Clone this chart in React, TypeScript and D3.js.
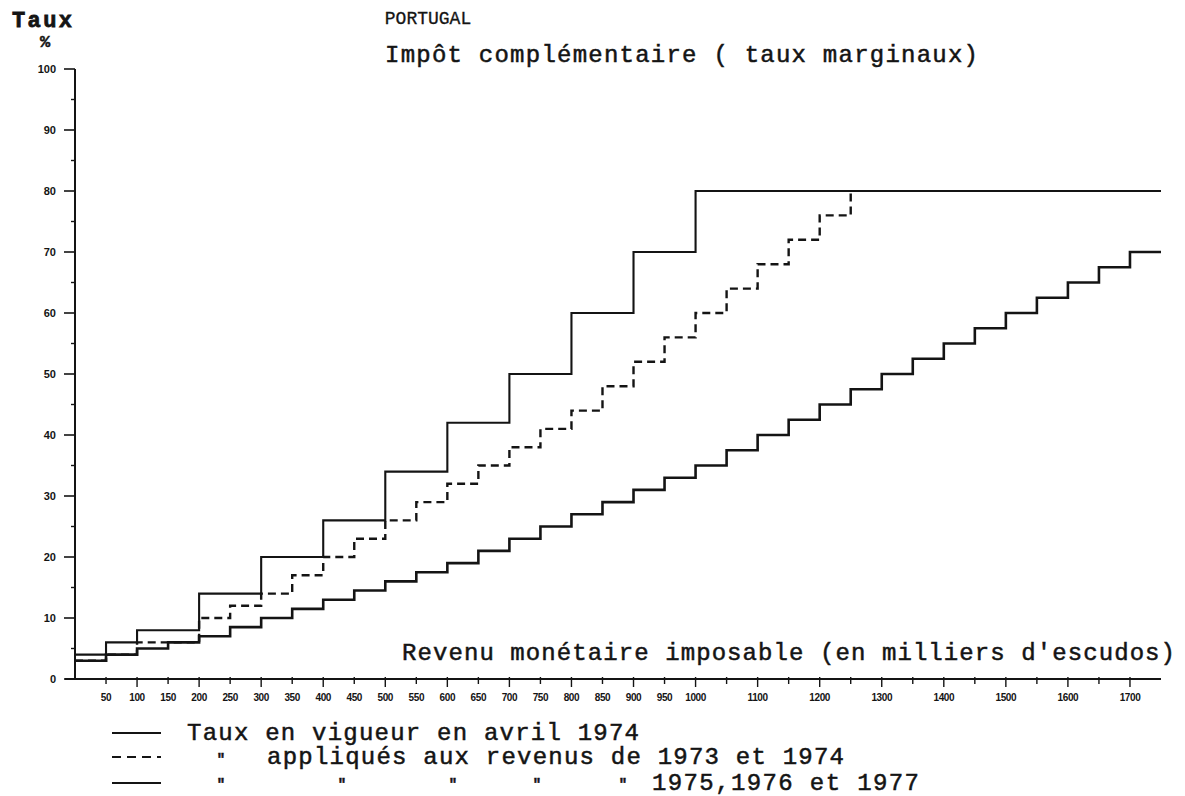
import * as d3 from 'd3';

// income thresholds (thousand escudos) and marginal rates (%)
const thresholds1974 = [0, 50, 100, 200, 300, 400, 500, 600, 700, 800, 900, 1000, 1750];
const rates1974 = [4, 6, 8, 14, 20, 26, 34, 42, 50, 60, 70, 80, 80];

const thresholds7374 = [0, 50, 100, 200, 250, 300, 350, 400, 450, 500, 550, 600, 650, 700, 750, 800, 850, 900, 950, 1000, 1050, 1100, 1150, 1200, 1250];
const rates7374 = [3, 4, 6, 10, 12, 14, 17, 20, 23, 26, 29, 32, 35, 38, 41, 44, 48, 52, 56, 60, 64, 68, 72, 76, 80];

const thresholds7577 = [0, 50, 100, 150, 200, 250, 300, 350, 400, 450, 500, 550, 600, 650, 700, 750, 800, 850, 900, 950, 1000, 1050, 1100, 1150, 1200, 1250, 1300, 1350, 1400, 1450, 1500, 1550, 1600, 1650, 1700, 1750];
const rates7577 = [3, 4, 5, 6, 7, 8.5, 10, 11.5, 13, 14.5, 16, 17.5, 19, 21, 23, 25, 27, 29, 31, 33, 35, 37.5, 40, 42.5, 45, 47.5, 50, 52.5, 55, 57.5, 60, 62.5, 65, 67.5, 70, 70];

const xTickLabels = [50, 100, 150, 200, 250, 300, 350, 400, 450, 500, 550, 600, 650, 700, 750, 800, 850, 900, 950, 1000, 1100, 1200, 1300, 1400, 1500, 1600, 1700];
const xTickMarks = [50, 100, 150, 200, 250, 300, 350, 400, 450, 500, 550, 600, 650, 700, 750, 800, 850, 900, 950, 1000, 1050, 1100, 1150, 1200, 1250, 1300, 1350, 1400, 1450, 1500, 1550, 1600, 1650, 1700];
const yTickLabels = [0, 10, 20, 30, 40, 50, 60, 70, 80, 90, 100];
const yMinorTicks = [5, 15, 25, 35, 45, 55, 65, 75, 85, 95];

const W = 1185;
const H = 796;
const INK = '#141414';
const TYPE = '"Liberation Mono", "DejaVu Sans Mono", monospace';
const SMALL = '"Liberation Sans", Arial, sans-serif';

export default function App() {
  const x = d3.scaleLinear().domain([0, 1750]).range([75, 1161]);
  const y = d3.scaleLinear().domain([0, 100]).range([679, 69]);

  const line = d3
    .line<[number, number]>()
    .x((d) => x(d[0]))
    .y((d) => y(d[1]))
    .curve(d3.curveStepAfter);

  const zip = (t: number[], r: number[]) => t.map((v, i) => [v, r[i]] as [number, number]);

  const typeText = {
    fontFamily: TYPE,
    fontSize: 24,
    fill: INK,
    stroke: INK,
    strokeWidth: 0.5,
  };

  return (
    <svg
      width={W}
      height={H}
      style={{ position: 'absolute', left: 0, top: 0, background: '#fff' }}
    >
      {/* headings */}
      <text x={12} y={27} {...typeText} fontSize={22} fontWeight="bold" strokeWidth={0.8} textLength={60}>
        Taux
      </text>
      <text x={45} y={47} {...typeText} fontSize={17} fontWeight="bold" textAnchor="middle">
        %
      </text>
      <text x={428} y={24} {...typeText} fontSize={18} strokeWidth={0.3} textAnchor="middle">
        PORTUGAL
      </text>
      <text x={385} y={62} {...typeText} textLength={593} lengthAdjust="spacing">
        Impôt complémentaire ( taux marginaux)
      </text>
      <text x={402} y={660} {...typeText} textLength={773} lengthAdjust="spacing">
        Revenu monétaire imposable (en milliers d'escudos)
      </text>

      {/* y axis */}
      <line x1={75} x2={75} y1={y(0)} y2={y(100)} stroke={INK} strokeWidth={2} />
      {yTickLabels.map((v) => (
        <g key={`y${v}`}>
          <line x1={64} x2={75} y1={y(v)} y2={y(v)} stroke={INK} strokeWidth={1.6} />
          <text
            x={56}
            y={y(v) + 4}
            textAnchor="end"
            fontFamily={SMALL}
            fontWeight="bold"
            fontSize={11}
            fill={INK}
          >
            {v}
          </text>
        </g>
      ))}
      {yMinorTicks.map((v) => (
        <line key={`ym${v}`} x1={71} x2={75} y1={y(v)} y2={y(v)} stroke={INK} strokeWidth={1.4} />
      ))}

      {/* x axis */}
      <line x1={65} x2={x(1750)} y1={y(0)} y2={y(0)} stroke={INK} strokeWidth={2} />
      {xTickMarks.map((v) => (
        <line
          key={`xm${v}`}
          x1={x(v)}
          x2={x(v)}
          y1={y(0) - 2}
          y2={y(0) + (v % 100 === 0 ? 8 : 5)}
          stroke={INK}
          strokeWidth={1.4}
        />
      ))}
      {xTickLabels.map((v) => (
        <text
          key={`xl${v}`}
          x={x(v)}
          y={701}
          textAnchor="middle"
          fontFamily={SMALL}
          fontWeight="bold"
          fontSize={10}
          fill={INK}
          style={{ letterSpacing: '-0.4px' }}
        >
          {v}
        </text>
      ))}

      {/* series */}
      <path d={line(zip(thresholds7577, rates7577)) ?? ''} fill="none" stroke={INK} strokeWidth={2.6} />
      <path
        d={line(zip(thresholds7374, rates7374)) ?? ''}
        fill="none"
        stroke={INK}
        strokeWidth={2.4}
        strokeDasharray="8 5"
      />
      <path d={line(zip(thresholds1974, rates1974)) ?? ''} fill="none" stroke={INK} strokeWidth={2.1} />

      {/* legend */}
      <line x1={112} x2={161} y1={733} y2={733} stroke={INK} strokeWidth={2} />
      <text x={187} y={740} {...typeText} textLength={452} lengthAdjust="spacing">
        Taux en vigueur en avril 1974
      </text>

      <line x1={112} x2={161} y1={757} y2={757} stroke={INK} strokeWidth={2.2} strokeDasharray="9 6" />
      <text x={221} y={764} {...typeText} fontSize={14} fontWeight="bold" textAnchor="middle">
        "
      </text>
      <text x={267} y={764} {...typeText} textLength={577} lengthAdjust="spacing">
        appliqués aux revenus de 1973 et 1974
      </text>

      <line x1={112} x2={161} y1={783} y2={783} stroke={INK} strokeWidth={2} />
      {[221, 342, 453, 537, 623].map((dx) => (
        <text key={`d${dx}`} x={dx} y={789} {...typeText} fontSize={14} fontWeight="bold" textAnchor="middle">
          "
        </text>
      ))}
      <text x={652} y={790} {...typeText} textLength={267} lengthAdjust="spacing">
        1975,1976 et 1977
      </text>
    </svg>
  );
}
